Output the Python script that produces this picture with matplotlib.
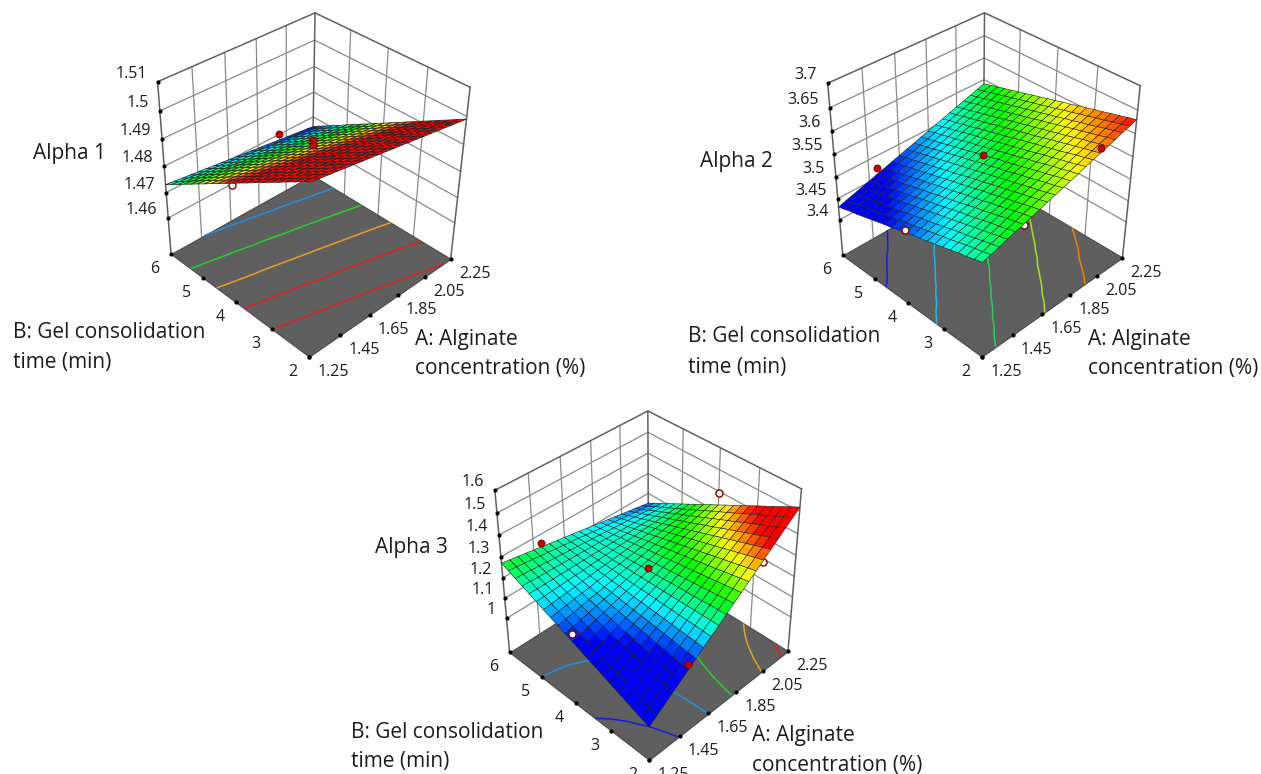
import matplotlib
matplotlib.use("Agg")
import matplotlib.pyplot as plt
import numpy as np
from matplotlib.colors import LinearSegmentedColormap, Normalize
from mpl_toolkits.mplot3d import proj3d
from mpl_toolkits.mplot3d.art3d import Poly3DCollection

plt.rcParams['font.family'] = ['Open Sans', 'DejaVu Sans']

A_ticks = [1.25, 1.45, 1.65, 1.85, 2.05, 2.25]
B_ticks = [2, 3, 4, 5, 6]
A_mesh = [1.25, 1.30, 1.35, 1.40, 1.45, 1.50, 1.55, 1.60, 1.65, 1.70, 1.75,
          1.80, 1.85, 1.90, 1.95, 2.00, 2.05, 2.10, 2.15, 2.20, 2.25]
B_mesh = [2.0, 2.2, 2.4, 2.6, 2.8, 3.0, 3.2, 3.4, 3.6, 3.8, 4.0,
          4.2, 4.4, 4.6, 4.8, 5.0, 5.2, 5.4, 5.6, 5.8, 6.0]

z1_ticks = [1.46, 1.47, 1.48, 1.49, 1.5, 1.51]
z1_labels = ['1.46', '1.47', '1.48', '1.49', '1.5', '1.51']
z1_floor = 1.4452
z1_table = [
 [1.5080,1.5076,1.5071,1.5067,1.5062,1.5058,1.5053,1.5049,1.5044,1.5040,1.5035,1.5031,1.5026,1.5022,1.5017,1.5013,1.5008,1.5004,1.4999,1.4995,1.4990],
 [1.5063,1.5058,1.5054,1.5049,1.5045,1.5040,1.5036,1.5031,1.5027,1.5022,1.5018,1.5014,1.5009,1.5005,1.5000,1.4996,1.4991,1.4987,1.4982,1.4978,1.4974],
 [1.5045,1.5041,1.5036,1.5032,1.5027,1.5023,1.5019,1.5014,1.5010,1.5005,1.5001,1.4997,1.4992,1.4988,1.4983,1.4979,1.4975,1.4970,1.4966,1.4961,1.4957],
 [1.5028,1.5023,1.5019,1.5014,1.5010,1.5006,1.5001,1.4997,1.4993,1.4988,1.4984,1.4980,1.4975,1.4971,1.4967,1.4962,1.4958,1.4954,1.4949,1.4945,1.4941],
 [1.5010,1.5006,1.5001,1.4997,1.4993,1.4989,1.4984,1.4980,1.4976,1.4971,1.4967,1.4963,1.4958,1.4954,1.4950,1.4946,1.4941,1.4937,1.4933,1.4928,1.4924],
 [1.4993,1.4988,1.4984,1.4980,1.4976,1.4971,1.4967,1.4963,1.4959,1.4954,1.4950,1.4946,1.4942,1.4937,1.4933,1.4929,1.4925,1.4920,1.4916,1.4912,1.4908],
 [1.4975,1.4971,1.4967,1.4962,1.4958,1.4954,1.4950,1.4946,1.4941,1.4937,1.4933,1.4929,1.4925,1.4920,1.4916,1.4912,1.4908,1.4904,1.4899,1.4895,1.4891],
 [1.4958,1.4953,1.4949,1.4945,1.4941,1.4937,1.4933,1.4929,1.4924,1.4920,1.4916,1.4912,1.4908,1.4904,1.4899,1.4895,1.4891,1.4887,1.4883,1.4879,1.4875],
 [1.4940,1.4936,1.4932,1.4928,1.4924,1.4920,1.4915,1.4911,1.4907,1.4903,1.4899,1.4895,1.4891,1.4887,1.4883,1.4879,1.4874,1.4870,1.4866,1.4862,1.4858],
 [1.4923,1.4918,1.4914,1.4910,1.4906,1.4902,1.4898,1.4894,1.4890,1.4886,1.4882,1.4878,1.4874,1.4870,1.4866,1.4862,1.4858,1.4854,1.4850,1.4846,1.4842],
 [1.4905,1.4901,1.4897,1.4893,1.4889,1.4885,1.4881,1.4877,1.4873,1.4869,1.4865,1.4861,1.4857,1.4853,1.4849,1.4845,1.4841,1.4837,1.4833,1.4829,1.4825],
 [1.4888,1.4884,1.4880,1.4876,1.4872,1.4868,1.4864,1.4860,1.4856,1.4852,1.4848,1.4844,1.4840,1.4836,1.4832,1.4828,1.4824,1.4820,1.4816,1.4812,1.4809],
 [1.4870,1.4866,1.4862,1.4858,1.4854,1.4851,1.4847,1.4843,1.4839,1.4835,1.4831,1.4827,1.4823,1.4819,1.4815,1.4812,1.4808,1.4804,1.4800,1.4796,1.4792],
 [1.4853,1.4849,1.4845,1.4841,1.4837,1.4833,1.4829,1.4826,1.4822,1.4818,1.4814,1.4810,1.4806,1.4802,1.4799,1.4795,1.4791,1.4787,1.4783,1.4779,1.4776],
 [1.4835,1.4831,1.4827,1.4824,1.4820,1.4816,1.4812,1.4808,1.4805,1.4801,1.4797,1.4793,1.4789,1.4786,1.4782,1.4778,1.4774,1.4770,1.4767,1.4763,1.4759],
 [1.4818,1.4814,1.4810,1.4806,1.4803,1.4799,1.4795,1.4791,1.4788,1.4784,1.4780,1.4776,1.4773,1.4769,1.4765,1.4761,1.4758,1.4754,1.4750,1.4746,1.4743],
 [1.4800,1.4796,1.4793,1.4789,1.4785,1.4782,1.4778,1.4774,1.4770,1.4767,1.4763,1.4759,1.4756,1.4752,1.4748,1.4745,1.4741,1.4737,1.4733,1.4730,1.4726],
 [1.4783,1.4779,1.4775,1.4772,1.4768,1.4764,1.4761,1.4757,1.4753,1.4750,1.4746,1.4742,1.4739,1.4735,1.4731,1.4728,1.4724,1.4720,1.4717,1.4713,1.4710],
 [1.4765,1.4761,1.4758,1.4754,1.4751,1.4747,1.4743,1.4740,1.4736,1.4733,1.4729,1.4725,1.4722,1.4718,1.4715,1.4711,1.4707,1.4704,1.4700,1.4697,1.4693],
 [1.4748,1.4744,1.4741,1.4737,1.4733,1.4730,1.4726,1.4723,1.4719,1.4716,1.4712,1.4709,1.4705,1.4701,1.4698,1.4694,1.4691,1.4687,1.4684,1.4680,1.4677],
 [1.4730,1.4727,1.4723,1.4720,1.4716,1.4713,1.4709,1.4706,1.4702,1.4699,1.4695,1.4692,1.4688,1.4685,1.4681,1.4678,1.4674,1.4671,1.4667,1.4664,1.4660],
]
z1_levels = [1.4715, 1.4785, 1.4855, 1.4925, 1.4995]
z1_level_colors = ['#1f8fe0', '#25d025', '#e8a020', '#e02020', '#e02020']
z1_points_A = [2.0, 1.75, 1.75, 1.25]
z1_points_B = [6, 4, 4, 4]
z1_points_z = [1.4703, 1.4905, 1.4888, 1.4900]
z1_points_open = [False, False, False, True]

z2_ticks = [3.4, 3.45, 3.5, 3.55, 3.6, 3.65, 3.7]
z2_labels = ['3.4', '3.45', '3.5', '3.55', '3.6', '3.65', '3.7']
z2_floor = 3.3125
z2_table = [
 [3.526,3.531,3.536,3.542,3.547,3.552,3.557,3.562,3.568,3.573,3.578,3.583,3.588,3.594,3.599,3.604,3.609,3.614,3.620,3.625,3.630],
 [3.521,3.526,3.532,3.537,3.542,3.547,3.553,3.558,3.563,3.568,3.573,3.579,3.584,3.589,3.594,3.599,3.605,3.610,3.615,3.620,3.626],
 [3.516,3.522,3.527,3.532,3.537,3.543,3.548,3.553,3.558,3.563,3.569,3.574,3.579,3.584,3.590,3.595,3.600,3.605,3.611,3.616,3.621],
 [3.512,3.517,3.522,3.527,3.533,3.538,3.543,3.548,3.554,3.559,3.564,3.569,3.575,3.580,3.585,3.590,3.596,3.601,3.606,3.611,3.617],
 [3.507,3.512,3.517,3.523,3.528,3.533,3.538,3.544,3.549,3.554,3.559,3.565,3.570,3.575,3.580,3.586,3.591,3.596,3.601,3.607,3.612],
 [3.502,3.507,3.513,3.518,3.523,3.528,3.534,3.539,3.544,3.549,3.555,3.560,3.565,3.571,3.576,3.581,3.586,3.592,3.597,3.602,3.608],
 [3.497,3.503,3.508,3.513,3.518,3.524,3.529,3.534,3.540,3.545,3.550,3.555,3.561,3.566,3.571,3.577,3.582,3.587,3.592,3.598,3.603],
 [3.492,3.498,3.503,3.508,3.514,3.519,3.524,3.530,3.535,3.540,3.545,3.551,3.556,3.561,3.567,3.572,3.577,3.583,3.588,3.593,3.599],
 [3.488,3.493,3.498,3.504,3.509,3.514,3.520,3.525,3.530,3.535,3.541,3.546,3.551,3.557,3.562,3.567,3.573,3.578,3.583,3.589,3.594],
 [3.483,3.488,3.493,3.499,3.504,3.509,3.515,3.520,3.526,3.531,3.536,3.542,3.547,3.552,3.558,3.563,3.568,3.574,3.579,3.584,3.590],
 [3.478,3.483,3.489,3.494,3.499,3.505,3.510,3.515,3.521,3.526,3.532,3.537,3.542,3.548,3.553,3.558,3.564,3.569,3.574,3.580,3.585],
 [3.473,3.479,3.484,3.489,3.495,3.500,3.505,3.511,3.516,3.521,3.527,3.532,3.538,3.543,3.548,3.554,3.559,3.564,3.570,3.575,3.581],
 [3.468,3.474,3.479,3.485,3.490,3.495,3.501,3.506,3.511,3.517,3.522,3.528,3.533,3.538,3.544,3.549,3.555,3.560,3.565,3.571,3.576],
 [3.464,3.469,3.474,3.480,3.485,3.491,3.496,3.501,3.507,3.512,3.518,3.523,3.528,3.534,3.539,3.545,3.550,3.555,3.561,3.566,3.572],
 [3.459,3.464,3.470,3.475,3.480,3.486,3.491,3.497,3.502,3.508,3.513,3.518,3.524,3.529,3.535,3.540,3.545,3.551,3.556,3.562,3.567],
 [3.454,3.459,3.465,3.470,3.476,3.481,3.487,3.492,3.497,3.503,3.508,3.514,3.519,3.525,3.530,3.535,3.541,3.546,3.552,3.557,3.563],
 [3.449,3.455,3.460,3.466,3.471,3.476,3.482,3.487,3.493,3.498,3.504,3.509,3.514,3.520,3.525,3.531,3.536,3.542,3.547,3.553,3.558],
 [3.444,3.450,3.455,3.461,3.466,3.472,3.477,3.483,3.488,3.494,3.499,3.504,3.510,3.515,3.521,3.526,3.532,3.537,3.543,3.548,3.554],
 [3.440,3.445,3.451,3.456,3.461,3.467,3.472,3.478,3.483,3.489,3.494,3.500,3.505,3.511,3.516,3.522,3.527,3.533,3.538,3.544,3.549],
 [3.435,3.440,3.446,3.451,3.457,3.462,3.468,3.473,3.479,3.484,3.490,3.495,3.501,3.506,3.512,3.517,3.523,3.528,3.534,3.539,3.545],
 [3.430,3.436,3.441,3.447,3.452,3.458,3.463,3.469,3.474,3.480,3.485,3.491,3.496,3.502,3.507,3.513,3.518,3.524,3.529,3.535,3.540],
]
z2_levels = [3.4626, 3.497, 3.535, 3.57, 3.60]
z2_level_colors = ['#1a1ae0', '#20b8e8', '#25d060', '#a8e020', '#f08000']
z2_points_A = [1.5, 1.25, 1.75, 2.0, 1.5]
z2_points_B = [6, 4, 4, 2, 2]
z2_points_z = [3.473, 3.484, 3.551, 3.615, 3.550]
z2_points_open = [False, True, False, False, True]

z3_ticks = [1.0, 1.1, 1.2, 1.3, 1.4, 1.5, 1.6]
z3_labels = ['1', '1.1', '1.2', '1.3', '1.4', '1.5', '1.6']
z3_floor = 0.825
z3_table = [
 [0.988,1.015,1.041,1.068,1.094,1.121,1.148,1.174,1.201,1.227,1.254,1.281,1.307,1.334,1.360,1.387,1.414,1.440,1.467,1.493,1.520],
 [1.002,1.027,1.052,1.077,1.102,1.127,1.152,1.177,1.202,1.227,1.252,1.277,1.302,1.327,1.352,1.377,1.402,1.427,1.452,1.477,1.502],
 [1.016,1.040,1.063,1.086,1.110,1.133,1.156,1.180,1.203,1.226,1.250,1.273,1.296,1.320,1.343,1.366,1.390,1.413,1.436,1.460,1.483],
 [1.030,1.052,1.074,1.095,1.117,1.139,1.161,1.182,1.204,1.226,1.247,1.269,1.291,1.313,1.334,1.356,1.378,1.399,1.421,1.443,1.465],
 [1.044,1.064,1.085,1.105,1.125,1.145,1.165,1.185,1.205,1.225,1.245,1.265,1.285,1.305,1.326,1.346,1.366,1.386,1.406,1.426,1.446],
 [1.059,1.077,1.095,1.114,1.132,1.151,1.169,1.188,1.206,1.225,1.243,1.261,1.280,1.298,1.317,1.335,1.354,1.372,1.391,1.409,1.428],
 [1.073,1.089,1.106,1.123,1.140,1.157,1.174,1.190,1.207,1.224,1.241,1.258,1.274,1.291,1.308,1.325,1.342,1.359,1.375,1.392,1.409],
 [1.087,1.102,1.117,1.132,1.147,1.163,1.178,1.193,1.208,1.223,1.239,1.254,1.269,1.284,1.299,1.315,1.330,1.345,1.360,1.375,1.391],
 [1.101,1.114,1.128,1.142,1.155,1.169,1.182,1.196,1.209,1.223,1.236,1.250,1.264,1.277,1.291,1.304,1.318,1.331,1.345,1.358,1.372],
 [1.115,1.127,1.139,1.151,1.163,1.175,1.186,1.198,1.210,1.222,1.234,1.246,1.258,1.270,1.282,1.294,1.306,1.318,1.330,1.342,1.354],
 [1.129,1.139,1.150,1.160,1.170,1.181,1.191,1.201,1.211,1.222,1.232,1.242,1.253,1.263,1.273,1.284,1.294,1.304,1.314,1.325,1.335],
 [1.143,1.152,1.160,1.169,1.178,1.186,1.195,1.204,1.212,1.221,1.230,1.238,1.247,1.256,1.264,1.273,1.282,1.290,1.299,1.308,1.317],
 [1.157,1.164,1.171,1.178,1.185,1.192,1.199,1.206,1.214,1.221,1.228,1.235,1.242,1.249,1.256,1.263,1.270,1.277,1.284,1.291,1.298],
 [1.171,1.177,1.182,1.188,1.193,1.198,1.204,1.209,1.215,1.220,1.225,1.231,1.236,1.242,1.247,1.252,1.258,1.263,1.269,1.274,1.280],
 [1.185,1.189,1.193,1.197,1.201,1.204,1.208,1.212,1.216,1.219,1.223,1.227,1.231,1.235,1.238,1.242,1.246,1.250,1.254,1.257,1.261],
 [1.200,1.202,1.204,1.206,1.208,1.210,1.212,1.215,1.217,1.219,1.221,1.223,1.225,1.227,1.230,1.232,1.234,1.236,1.238,1.240,1.243],
 [1.214,1.214,1.215,1.215,1.216,1.216,1.217,1.217,1.218,1.218,1.219,1.219,1.220,1.220,1.221,1.221,1.222,1.222,1.223,1.223,1.224],
 [1.228,1.227,1.225,1.224,1.223,1.222,1.221,1.220,1.219,1.218,1.217,1.215,1.214,1.213,1.212,1.211,1.210,1.209,1.208,1.207,1.206],
 [1.242,1.239,1.236,1.234,1.231,1.228,1.225,1.223,1.220,1.217,1.214,1.212,1.209,1.206,1.203,1.201,1.198,1.195,1.192,1.190,1.187],
 [1.256,1.252,1.247,1.243,1.238,1.234,1.230,1.225,1.221,1.217,1.212,1.208,1.203,1.199,1.195,1.190,1.186,1.182,1.177,1.173,1.169],
 [1.270,1.264,1.258,1.252,1.246,1.240,1.234,1.228,1.222,1.216,1.210,1.204,1.198,1.192,1.186,1.180,1.174,1.168,1.162,1.156,1.150],
]
z3_levels = [1.09, 1.20, 1.29, 1.41, 1.49]
z3_level_colors = ['#1a1ae0', '#1f8fe0', '#25d025', '#e8a020', '#e02020']
z3_points_A = [1.5, 1.25, 1.75, 2.25, 1.5, 2.0]
z3_points_B = [6, 4, 4, 4, 2, 2]
z3_points_z = [1.257, 1.165, 1.245, 1.393, 1.150, 1.380]
z3_points_open = [False, True, False, True, False, True]

W, H = 1261, 774
fig = plt.figure(figsize=(W / 100, H / 100), dpi=100)
cmap = LinearSegmentedColormap.from_list('dx', ['#0000ff', '#00ffff', '#00ff00', '#ffff00', '#ff0000'])
TXT = '#1c1c1c'


def panel(rect, roll, zbox, focal, zticks, zlabels, zfloor, table, levels, level_colors, pA, pB, pZ, pOpen,
          vmin, vmax, on_top, mesh_lw, name, name_xy, b_xy, a_xy):
    l, t, w, h = rect
    ax = fig.add_axes([l / W, 1 - (t + h) / H, w / W, h / H], projection='3d', computed_zorder=False)
    ax.apply_aspect = lambda position=None: None
    ax.set_axis_off()
    ax.patch.set_alpha(0)
    ax.set_proj_type('persp', focal_length=focal)
    ax.view_init(elev=35.26, azim=-135, roll=roll)
    ax.set_box_aspect((1, 1, zbox))
    a0, a1 = A_ticks[0], A_ticks[-1]
    b0, b1 = B_ticks[0], B_ticks[-1]
    ztop = zticks[-1]
    grid = '#8a8a8a'
    frame = '#606060'
    for a in A_ticks[1:-1]:
        ax.plot([a, a], [b1, b1], [zfloor, ztop], color=grid, lw=0.9, zorder=1)
    for b in B_ticks[1:-1]:
        ax.plot([a1, a1], [b, b], [zfloor, ztop], color=grid, lw=0.9, zorder=1)
    for z in zticks[:-1]:
        ax.plot([a0, a1, a1], [b1, b1, b0], [z, z, z], color=grid, lw=0.9, zorder=1)
    ax.plot([a0, a1, a1], [b1, b1, b0], [ztop, ztop, ztop], color=frame, lw=1.1, zorder=1)
    ax.plot([a0, a0], [b1, b1], [zfloor, ztop], color=frame, lw=1.1, zorder=1)
    ax.plot([a1, a1], [b1, b1], [zfloor, ztop], color=frame, lw=1.1, zorder=1)
    ax.plot([a1, a1], [b0, b0], [zfloor, ztop], color=frame, lw=1.1, zorder=1)
    floor = Poly3DCollection([[(a0, b0, zfloor), (a1, b0, zfloor), (a1, b1, zfloor), (a0, b1, zfloor)]],
                             facecolor='#5f5f5f', edgecolor='#4a4a4a', linewidth=0.8, zorder=1.5)
    ax.add_collection3d(floor)
    X, Y = np.meshgrid(A_mesh, B_mesh)
    Z = np.array(table)
    ax.contour(X, Y, Z, levels=levels, colors=level_colors, linewidths=1.1, zdir='z', offset=zfloor, zorder=2)
    ax.scatter([a0] * len(zticks), [b1] * len(zticks), zticks, s=4, c='k', depthshade=False, zorder=2)
    ax.scatter(A_ticks, [b0] * len(A_ticks), [zfloor] * len(A_ticks), s=4, c='k', depthshade=False, zorder=2)
    ax.scatter([a0] * len(B_ticks), B_ticks, [zfloor] * len(B_ticks), s=4, c='k', depthshade=False, zorder=2)
    cell = 0.25 * (Z[:-1, :-1] + Z[1:, :-1] + Z[:-1, 1:] + Z[1:, 1:])
    fc = cmap(Normalize(vmin, vmax)(cell))
    ax.plot_surface(X, Y, Z, facecolors=fc, rstride=1, cstride=1, shade=False,
                    linewidth=mesh_lw, edgecolor='#202020', antialiased=True, zorder=4)
    for i, (a, b, z, op) in enumerate(zip(pA, pB, pZ, pOpen)):
        ax.scatter([a], [b], [z], s=26, c='white' if op else '#c40000', edgecolors='#7a0000',
                   linewidths=1.0 if op else 0.6, depthshade=False, zorder=5 if on_top[i] else 3)
    ax.set_xlim(a0, a1)
    ax.set_ylim(b0, b1)
    ax.set_zlim(zfloor, ztop)
    for art in ax.get_children():
        try:
            art.set_clip_on(False)
        except Exception:
            pass
    M = ax.get_proj()

    def label(txt, x, y, z, dx, dy, ha='center', fs=11.5):
        px, py, _ = proj3d.proj_transform(x, y, z, M)
        ax.annotate(txt, xy=(px, py), xytext=(dx, -dy), textcoords='offset pixels', ha=ha, va='center',
                    fontsize=fs, color=TXT, annotation_clip=False)

    for z, s in zip(zticks, zlabels):
        label(s, a0, b1, z, -11, -8, ha='right')
    for a in A_ticks:
        label(f'{a:.2f}', a, b0, zfloor, 24, 15)
    for b in B_ticks:
        label(str(b), a0, b, zfloor, -16, 15)
    fs = 15
    fig.text(name_xy[0] / W, 1 - (name_xy[1] + 2) / H, name, fontsize=fs, color=TXT, va='center')
    for (x, y), s in zip(b_xy, ['B: Gel consolidation', 'time (min)']):
        fig.text(x / W, 1 - (y + 2) / H, s, fontsize=fs, color=TXT, va='center')
    for (x, y), s in zip(a_xy, ['A: Alginate', 'concentration (%)']):
        fig.text(x / W, 1 - (y + 2) / H, s, fontsize=fs, color=TXT, va='center')


panel((132, 3.5, 351, 353), -1.0, 1.0, 0.572, z1_ticks, z1_labels, z1_floor, z1_table, z1_levels, z1_level_colors,
      z1_points_A, z1_points_B, z1_points_z, z1_points_open, 1.4665, 1.490, [True, True, True, False], 0.5,
      'Alpha 1', (33, 152), [(13, 331), (13, 361)], [(415, 337), (415, 367)])
panel((803, 3.5, 351, 353), -0.45, 1.0, 0.572, z2_ticks, z2_labels, z2_floor, z2_table, z2_levels, z2_level_colors,
      z2_points_A, z2_points_B, z2_points_z, z2_points_open, 3.465, 3.63, [True, True, True, True, False], 0.4,
      'Alpha 2', (700, 160), [(688, 335), (688, 365)], [(1088, 337), (1088, 367)])
panel((477.7, 396, 332.6, 367), 0.25, 0.87, 0.598, z3_ticks, z3_labels, z3_floor, z3_table, z3_levels, z3_level_colors,
      z3_points_A, z3_points_B, z3_points_z, z3_points_open, 1.13, 1.42, [True, True, True, True, True, False], 0.4,
      'Alpha 3', (375, 545), [(351, 731), (351, 760)], [(752, 733), (752, 763)])

fig.savefig('out.png', dpi=100)
